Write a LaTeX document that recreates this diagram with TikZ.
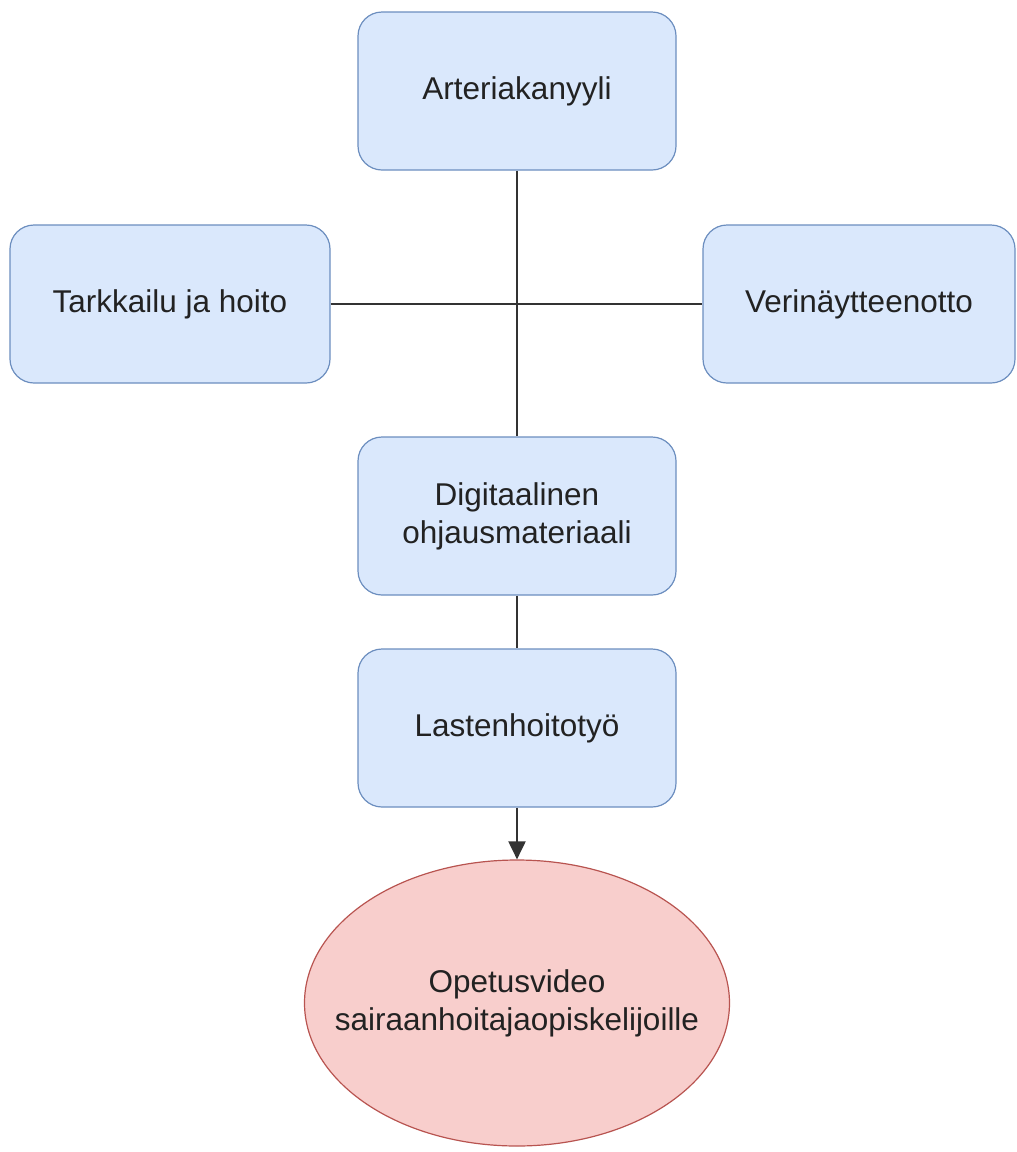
\documentclass[tikz,border=0pt]{standalone}
\usepackage{fontspec}
\setmainfont{Liberation Sans}
\usetikzlibrary{shapes.geometric,arrows.meta}
\definecolor{bfill}{HTML}{DAE8FC}
\definecolor{bdraw}{HTML}{6C8EBF}
\definecolor{rfill}{HTML}{F8CECC}
\definecolor{rdraw}{HTML}{B85450}
\definecolor{txt}{HTML}{222222}
\tikzset{
  box/.style={draw=bdraw, fill=bfill, line width=1.2pt, rounded corners=24pt,
    minimum width=318pt, minimum height=158pt, align=center, inner sep=0pt,
    font=\fontsize{31.5}{38}\selectfont, text=txt},
  oval/.style={ellipse, draw=rdraw, fill=rfill, line width=1.2pt,
    minimum width=425pt, minimum height=286pt, align=center, inner ysep=0pt,
    inner xsep=-60pt,
    font=\fontsize{31.5}{38}\selectfont, text=txt},
  conn/.style={draw=black!80, line width=2pt}
}
\begin{document}
\begin{tikzpicture}[x=1pt,y=-1pt]
\useasboundingbox (0,0) rectangle (1017,1152);
\node[box] (art) at (517,91) {Arteriakanyyli};
\node[box, minimum width=320pt] (tark) at (170,304) {Tarkkailu ja hoito};
\node[box, minimum width=312pt] (veri) at (859,304) {Verinäytteenotto};
\node[box] (dig) at (517,516) {Digitaalinen\\ohjausmateriaali};
\node[box] (last) at (517,728) {Lastenhoitotyö};
\node[oval] (ope) at (517,1003) {Opetusvideo\\sairaanhoitajaopiskelijoille};
\draw[conn] (art.south) -- (dig.north);
\draw[conn] (tark.east) -- (veri.west);
\draw[conn] (dig.south) -- (last.north);
\draw[conn, -{Triangle[length=18pt,width=17pt]}] (last.south) -- (ope.north);
\end{tikzpicture}
\end{document}
